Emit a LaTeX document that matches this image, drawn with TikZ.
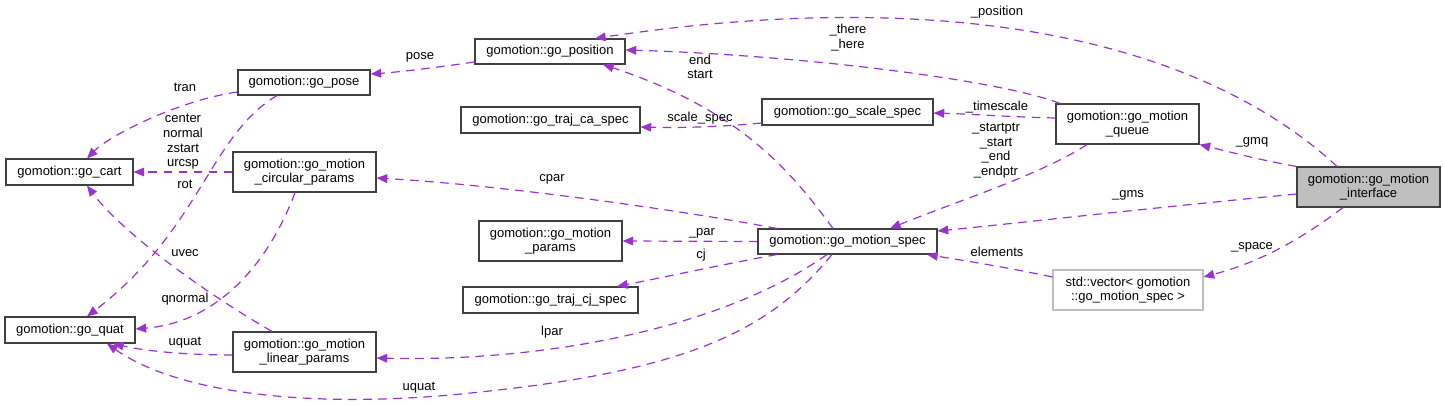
\documentclass[tikz,border=0pt]{standalone}
\usepackage{fontspec}
\setmainfont{Liberation Sans}
\usetikzlibrary{arrows.meta}
\definecolor{edgec}{HTML}{9A32CD}
\definecolor{boxc}{HTML}{404040}
\definecolor{greyfill}{HTML}{BFBFBF}
\begin{document}
\begin{tikzpicture}[x=0.75pt,y=-0.75pt,
  every node/.style={font=\fontsize{9.75}{11}\selectfont},
  cls/.style={draw=boxc,line width=0.8pt,rectangle,inner sep=0pt,align=center,minimum height=19.5pt},
  cls2/.style={cls,minimum height=30pt},
  lbl/.style={inner sep=0pt,align=center},
  rel/.style={draw=edgec,line width=0.9pt,dash pattern=on 6.5pt off 4.8pt,-{Triangle[length=8pt,width=6.5pt,fill=edgec]}}
]
\useasboundingbox (0,0) rectangle (1445,406);
% classes
\node[cls,minimum width=95.25pt] (cart) at (69.5,172) {gomotion::go\_cart};
\node[cls,minimum width=97.5pt] (quat) at (70,330) {gomotion::go\_quat};
\node[cls,minimum width=99pt,minimum height=18.75pt] (pose) at (304,82.5) {gomotion::go\_pose};
\node[cls2,minimum width=107.25pt] (circ) at (304.5,172) {gomotion::go\_motion\\\_circular\_params};
\node[cls2,minimum width=107.25pt] (lin) at (304.5,352) {gomotion::go\_motion\\\_linear\_params};
\node[cls,minimum width=112.5pt,minimum height=18.75pt] (position) at (550,51.5) {gomotion::go\_position};
\node[cls,minimum width=134.25pt] (ca) at (550.5,120) {gomotion::go\_traj\_ca\_spec};
\node[cls2,minimum width=107.25pt] (params) at (550.5,241) {gomotion::go\_motion\\\_params};
\node[cls,minimum width=131.25pt] (cjspec) at (550.5,300) {gomotion::go\_traj\_cj\_spec};
\node[cls,minimum width=134.25pt,minimum height=18.75pt] (spec) at (847.5,241.5) {gomotion::go\_motion\_spec};
\node[cls,minimum width=128.25pt] (scale) at (847.5,112) {gomotion::go\_scale\_spec};
\node[cls2,minimum width=107.25pt] (queue) at (1127.5,124) {gomotion::go\_motion\\\_queue};
\node[cls2,minimum width=107.25pt,fill=greyfill] (iface) at (1368.5,187) {gomotion::go\_motion\\\_interface};
\node[cls2,minimum width=112.5pt,draw=greyfill] (vec) at (1128,290) {std::vector\textless{} gomotion\\::go\_motion\_spec \textgreater{}};
% edges
\draw[rel] ([shift={(0,9.5)}]pose.west) .. controls (180,100) and (110,135) .. ([shift={(17.5,0)}]cart.north);
\draw[rel] (circ.west) -- (cart.east);
\draw[rel] ([shift={(-27,0)}]pose.south) .. controls (210,135) and (200,230) .. ([shift={(17,0)}]quat.north);
\draw[rel] ([shift={(-32.5,0)}]lin.north) .. controls (200,290) and (120,230) .. ([shift={(17.5,0)}]cart.south);
\draw[rel] ([shift={(-9.5,0)}]circ.south) .. controls (270,260) and (220,322) .. ([shift={(0,-1)}]quat.east);
\draw[rel] ([shift={(0,3)}]lin.west) .. controls (180,355) and (140,350) .. ([shift={(43,0)}]quat.south);
\coordinate (uqmid) at (480,392);
\draw[rel] ([shift={(-15.5,0)}]spec.south) .. controls (770,330) and (690,370) .. (uqmid) .. controls (320,410) and (180,395) .. ([shift={(37,0)}]quat.south);
\draw[rel] ([shift={(-20.5,0)}]spec.south) .. controls (720,330) and (540,362) .. ([shift={(0,6)}]lin.east);
\draw[rel] ([shift={(-70.5,0)}]spec.north) .. controls (680,210) and (500,185) .. ([shift={(0,6)}]circ.east);
\draw[rel] (spec.west) -- (params.east);
\draw[rel] ([shift={(-70.5,0)}]spec.south) .. controls (720,265) and (660,278) .. ([shift={(66.5,0)}]cjspec.north);
\draw[rel] ([shift={(-14.5,0)}]spec.north) .. controls (790,170) and (740,110) .. ([shift={(53,0)}]position.south);
\draw[rel] ([shift={(0,10.5)}]position.west) .. controls (440,67) and (400,72) .. ([shift={(0,-8.5)}]pose.east);
\draw[rel] ([shift={(0,11)}]scale.west) .. controls (720,127) and (680,128) .. ([shift={(0,7)}]ca.east);
\draw[rel] ([shift={(0,-6)}]queue.west) .. controls (1010,117) and (970,114) .. ([shift={(0,1)}]scale.east);
\draw[rel] ([shift={(-67.5,0)}]queue.north) .. controls (1000,80) and (800,55) .. ([shift={(0,-1.5)}]position.east);
\draw[rel] ([shift={(-31.5,0)}]iface.north) .. controls (1200,40) and (950,-15) .. ([shift={(45,0)}]position.north);
\draw[rel] (iface.north west) .. controls (1260,160) and (1230,152) .. (queue.south east);
\draw[rel] ([shift={(0,7)}]iface.west) .. controls (1150,208) and (1000,225) .. ([shift={(0,-10.5)}]spec.east);
\draw[rel] ([shift={(-40.5,0)}]queue.south) .. controls (1040,175) and (960,200) .. ([shift={(42.5,0)}]spec.north);
\draw[rel] ([shift={(0,-13)}]vec.west) .. controls (1000,266) and (960,260) .. ([shift={(79.5,0)}]spec.south);
\draw[rel] ([shift={(-25.5,0)}]iface.south) .. controls (1300,240) and (1260,262) .. ([shift={(0,-13)}]vec.east);
% labels
\node[lbl] (l1) at (185,87) {tran};
\node[lbl] (l2) at (183,142) {center\\normal\\zstart\\urcsp};
\node[lbl] (l3) at (185,184) {rot};
\node[lbl] (l4) at (185,253) {uvec};
\node[lbl] (l5) at (185,299) {qnormal};
\node[lbl] (l6) at (185,343) {uquat};
\node[lbl] (l7) at (419,388) {uquat};
\node[lbl] (l8) at (420,57) {pose};
\node[lbl] (l9) at (552,179) {cpar};
\node[lbl] (l10) at (702,233) {\_par};
\node[lbl] (l11) at (701,255) {cj};
\node[lbl] (l12) at (552,332) {lpar};
\node[lbl] (l13) at (700,118) {scale\_spec};
\node[lbl] (l14) at (700,67) {end\\start};
\node[lbl] (l15) at (848,37.5) {\_there\\\_here};
\node[lbl] (l16) at (997,12) {\_position};
\node[lbl] (l17) at (997,107) {\_timescale};
\node[lbl] (l18) at (996,150.5) {\_startptr\\\_start\\\_end\\\_endptr};
\node[lbl] (l19) at (1252,142) {\_gmq};
\node[lbl] (l20) at (1128,195) {\_gms};
\node[lbl] (l21) at (997,252) {elements};
\node[lbl] (l22) at (1252,247) {\_space};
\end{tikzpicture}
\end{document}
